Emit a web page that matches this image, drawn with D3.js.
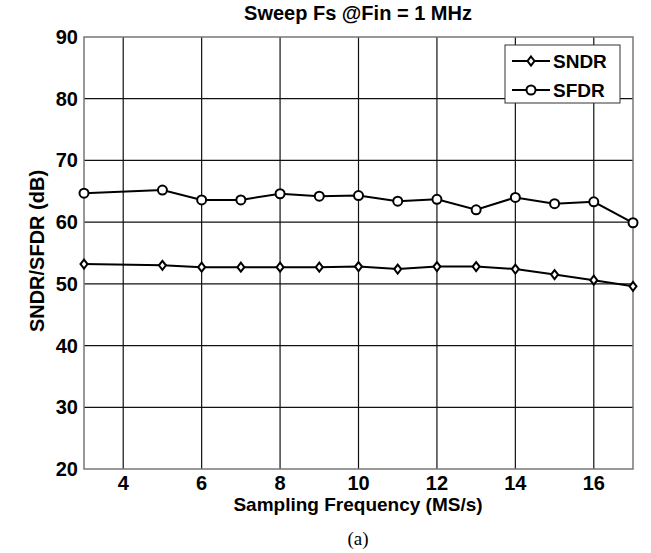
<!DOCTYPE html>
<html>
<head>
<meta charset="utf-8">
<script src="https://cdn.jsdelivr.net/npm/d3@7"></script>
<style>
  body { margin: 0; background: #fff; }
  text { font-family: "Liberation Sans", Arial, sans-serif; }
</style>
</head>
<body>
<div id="chart"></div>
<script>
// values
const fs = [3, 5, 6, 7, 8, 9, 10, 11, 12, 13, 14, 15, 16, 17];
const sndr = [53.2, 53.0, 52.7, 52.7, 52.7, 52.7, 52.8, 52.4, 52.8, 52.8, 52.4, 51.5, 50.6, 49.6];
const sfdr = [64.7, 65.2, 63.6, 63.6, 64.6, 64.2, 64.3, 63.4, 63.7, 62.0, 64.0, 63.0, 63.3, 59.9];
const xTicks = [4, 6, 8, 10, 12, 14, 16];
const yTicks = [20, 30, 40, 50, 60, 70, 80, 90];
const seriesNames = ["SNDR", "SFDR"];

const width = 651, height = 553;
const margin = { top: 37, right: 18, bottom: 84, left: 84 };

const svg = d3.select("#chart").append("svg")
  .attr("width", width)
  .attr("height", height);

const x = d3.scaleLinear().domain([3, 17]).range([margin.left, width - margin.right]);
const y = d3.scaleLinear().domain([20, 90]).range([height - margin.bottom, margin.top]);

// grid
svg.append("g")
  .selectAll("line")
  .data(xTicks)
  .join("line")
  .attr("x1", d => x(d)).attr("x2", d => x(d))
  .attr("y1", y(20)).attr("y2", y(90))
  .attr("stroke", "#111").attr("stroke-width", 1.2);

svg.append("g")
  .selectAll("line")
  .data(yTicks.slice(1, -1))
  .join("line")
  .attr("x1", x(3)).attr("x2", x(17))
  .attr("y1", d => y(d)).attr("y2", d => y(d))
  .attr("stroke", "#111").attr("stroke-width", 1.2);

// frame
svg.append("rect")
  .attr("x", x(3)).attr("y", y(90))
  .attr("width", x(17) - x(3)).attr("height", y(20) - y(90))
  .attr("fill", "none").attr("stroke", "#777").attr("stroke-width", 1.5);

// tick labels
svg.append("g")
  .attr("font-weight", "bold").attr("font-size", 20)
  .attr("text-anchor", "middle")
  .selectAll("text")
  .data(xTicks)
  .join("text")
  .attr("x", d => x(d)).attr("y", y(20) + 21)
  .text(d => d);

svg.append("g")
  .attr("font-weight", "bold").attr("font-size", 20)
  .attr("text-anchor", "end")
  .selectAll("text")
  .data(yTicks)
  .join("text")
  .attr("x", x(3) - 6).attr("y", d => y(d) + 7)
  .text(d => d);

// titles
svg.append("text")
  .attr("x", 358).attr("y", 20)
  .attr("text-anchor", "middle")
  .attr("font-weight", "bold").attr("font-size", 20)
  .text("Sweep Fs @Fin = 1 MHz");

svg.append("text")
  .attr("x", 358).attr("y", 511)
  .attr("text-anchor", "middle")
  .attr("font-weight", "bold").attr("font-size", 19)
  .text("Sampling Frequency (MS/s)");

svg.append("text")
  .attr("transform", `translate(44,251) rotate(-90)`)
  .attr("text-anchor", "middle")
  .attr("font-weight", "bold").attr("font-size", 20)
  .text("SNDR/SFDR (dB)");

svg.append("text")
  .attr("x", 358).attr("y", 545)
  .attr("text-anchor", "middle")
  .attr("font-size", 19)
  .style("font-family", "'Liberation Serif', 'Times New Roman', serif")
  .text("(a)");

// series
const line = d3.line().x(d => x(d[0])).y(d => y(d[1]));
const sndrPts = fs.map((f, i) => [f, sndr[i]]);
const sfdrPts = fs.map((f, i) => [f, sfdr[i]]);

const diamond = "M0,-4.5L3.5,0L0,4.5L-3.5,0Z";

svg.append("path").datum(sndrPts)
  .attr("d", line).attr("fill", "none")
  .attr("stroke", "#000").attr("stroke-width", 2);
svg.append("path").datum(sfdrPts)
  .attr("d", line).attr("fill", "none")
  .attr("stroke", "#000").attr("stroke-width", 2);

svg.append("g").selectAll("path")
  .data(sndrPts)
  .join("path")
  .attr("d", diamond)
  .attr("transform", d => `translate(${x(d[0])},${y(d[1])})`)
  .attr("fill", "#fff").attr("stroke", "#000").attr("stroke-width", 2);

svg.append("g").selectAll("circle")
  .data(sfdrPts)
  .join("circle")
  .attr("cx", d => x(d[0])).attr("cy", d => y(d[1]))
  .attr("r", 4.5)
  .attr("fill", "#fff").attr("stroke", "#000").attr("stroke-width", 2);

// legend
const lg = svg.append("g");
lg.append("rect")
  .attr("x", 505).attr("y", 45).attr("width", 115).attr("height", 58)
  .attr("fill", "#fff").attr("stroke", "#333").attr("stroke-width", 1);

seriesNames.forEach((name, i) => {
  const ly = 61 + i * 29;
  lg.append("line")
    .attr("x1", 512).attr("x2", 550).attr("y1", ly).attr("y2", ly)
    .attr("stroke", "#000").attr("stroke-width", 2);
  if (i === 0) {
    lg.append("path").attr("d", diamond)
      .attr("transform", `translate(531,${ly})`)
      .attr("fill", "#fff").attr("stroke", "#000").attr("stroke-width", 2);
  } else {
    lg.append("circle").attr("cx", 531).attr("cy", ly).attr("r", 4.5)
      .attr("fill", "#fff").attr("stroke", "#000").attr("stroke-width", 2);
  }
  lg.append("text")
    .attr("x", 553).attr("y", ly + 7)
    .attr("font-weight", "bold").attr("font-size", 19)
    .text(name);
});
</script>
</body>
</html>
